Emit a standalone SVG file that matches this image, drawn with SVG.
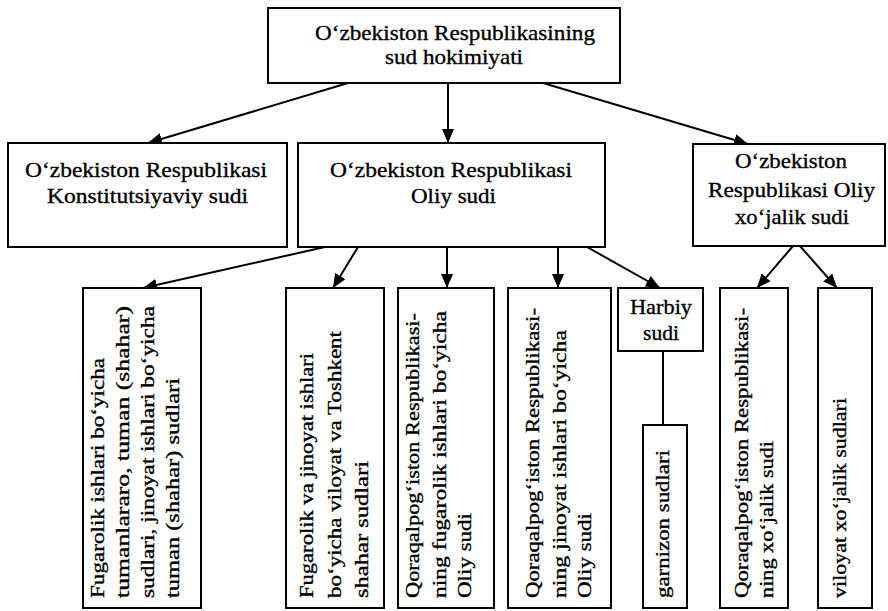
<svg xmlns="http://www.w3.org/2000/svg" width="888" height="611" viewBox="0 0 888 611">
<style>
.box{fill:#fff;stroke:#000;stroke-width:2}
.t{font-family:'Liberation Serif','Times New Roman',serif;font-size:22px;fill:#000;stroke:#000;stroke-width:0.35}
.v{font-family:'Liberation Serif','Times New Roman',serif;font-size:19px;fill:#000;stroke:#000;stroke-width:0.35}
.c{stroke:#000;stroke-width:2;fill:none;marker-end:url(#ah)}
.l{stroke:#000;stroke-width:2;fill:none}
</style>
<defs>
<marker id="ah" markerUnits="userSpaceOnUse" markerWidth="14" markerHeight="12" refX="14" refY="6" orient="auto">
<path d="M0,0 L14,6 L0,12 z" fill="#000"/>
</marker>
</defs>
<rect width="888" height="611" fill="#fff"/>
<g id="connectors">
<line class="c" x1="348" y1="83" x2="148" y2="143"/>
<line class="c" x1="448" y1="83" x2="448" y2="143"/>
<line class="c" x1="543" y1="83" x2="748" y2="144"/>
<line class="c" x1="325" y1="247" x2="143" y2="288"/>
<line class="c" x1="358" y1="247" x2="333" y2="288"/>
<line class="c" x1="447" y1="247" x2="447" y2="288"/>
<line class="c" x1="558" y1="247" x2="558" y2="288"/>
<line class="c" x1="587" y1="247" x2="660" y2="288"/>
<line class="c" x1="793" y1="246" x2="757" y2="288"/>
<line class="c" x1="800" y1="246" x2="837" y2="288"/>
<line class="l" x1="663" y1="351" x2="663" y2="425"/>
</g>
<g id="top">
<rect class="box" x="268" y="8" width="352" height="75"/>
<text class="t" x="315" y="40" textLength="280" lengthAdjust="spacingAndGlyphs">O‘zbekiston Respublikasining</text>
<text class="t" x="385" y="64" textLength="138" lengthAdjust="spacingAndGlyphs">sud hokimiyati</text>
</g>
<g id="konst">
<rect class="box" x="8" y="143" width="279" height="104"/>
<text class="t" x="25" y="177" textLength="242" lengthAdjust="spacingAndGlyphs">O‘zbekiston Respublikasi</text>
<text class="t" x="47" y="203" textLength="201" lengthAdjust="spacingAndGlyphs">Konstitutsiyaviy sudi</text>
</g>
<g id="oliy">
<rect class="box" x="298" y="143" width="307" height="104"/>
<text class="t" x="330" y="177" textLength="242" lengthAdjust="spacingAndGlyphs">O‘zbekiston Respublikasi</text>
<text class="t" x="411" y="203" textLength="85" lengthAdjust="spacingAndGlyphs">Oliy sudi</text>
</g>
<g id="xojalik">
<rect class="box" x="693" y="144" width="192" height="102"/>
<text class="t" x="735" y="168" textLength="112" lengthAdjust="spacingAndGlyphs">O‘zbekiston</text>
<text class="t" x="708" y="197" textLength="167" lengthAdjust="spacingAndGlyphs">Respublikasi Oliy</text>
<text class="t" x="735" y="224" textLength="114" lengthAdjust="spacingAndGlyphs">xo‘jalik sudi</text>
</g>
<g id="b1">
<rect class="box" x="83" y="288" width="118" height="320"/>
<text class="v" transform="translate(104,598) rotate(-90)" textLength="240" lengthAdjust="spacingAndGlyphs">Fugarolik ishlari bo‘yicha</text>
<text class="v" transform="translate(129,598) rotate(-90)" textLength="292" lengthAdjust="spacingAndGlyphs">tumanlararo, tuman (shahar)</text>
<text class="v" transform="translate(154,598) rotate(-90)" textLength="292" lengthAdjust="spacingAndGlyphs">sudlari, jinoyat ishlari bo‘yicha</text>
<text class="v" transform="translate(179,598) rotate(-90)" textLength="220" lengthAdjust="spacingAndGlyphs">tuman (shahar)  sudlari</text>
</g>
<g id="b2">
<rect class="box" x="286" y="288" width="98" height="320"/>
<text class="v" transform="translate(313,598) rotate(-90)" textLength="245" lengthAdjust="spacingAndGlyphs">Fugarolik va jinoyat ishlari</text>
<text class="v" transform="translate(341,598) rotate(-90)" textLength="267" lengthAdjust="spacingAndGlyphs">bo‘yicha viloyat va Toshkent</text>
<text class="v" transform="translate(368,598) rotate(-90)" textLength="137" lengthAdjust="spacingAndGlyphs">shahar  sudlari</text>
</g>
<g id="b3">
<rect class="box" x="398" y="288" width="96" height="320"/>
<text class="v" transform="translate(419,598) rotate(-90)" textLength="285" lengthAdjust="spacingAndGlyphs">Qoraqalpog‘iston Respublikasi-</text>
<text class="v" transform="translate(446,598) rotate(-90)" textLength="287" lengthAdjust="spacingAndGlyphs">ning fugarolik ishlari bo‘yicha</text>
<text class="v" transform="translate(471,598) rotate(-90)" textLength="85" lengthAdjust="spacingAndGlyphs">Oliy sudi</text>
</g>
<g id="b4">
<rect class="box" x="508" y="288" width="103" height="320"/>
<text class="v" transform="translate(539,598) rotate(-90)" textLength="290" lengthAdjust="spacingAndGlyphs">Qoraqalpog‘iston Respublikasi-</text>
<text class="v" transform="translate(566,598) rotate(-90)" textLength="268" lengthAdjust="spacingAndGlyphs">ning jinoyat ishlari bo‘yicha</text>
<text class="v" transform="translate(591,598) rotate(-90)" textLength="85" lengthAdjust="spacingAndGlyphs">Oliy sudi</text>
</g>
<g id="harbiy">
<rect class="box" x="618" y="288" width="85" height="63"/>
<text class="t" x="661" y="314" text-anchor="middle" textLength="62" lengthAdjust="spacingAndGlyphs">Harbiy</text>
<text class="t" x="661" y="340" text-anchor="middle" textLength="36" lengthAdjust="spacingAndGlyphs">sudi</text>
</g>
<g id="garnizon">
<rect class="box" x="643" y="425" width="44" height="183"/>
<text class="v" transform="translate(669,598) rotate(-90)" textLength="148" lengthAdjust="spacingAndGlyphs">garnizon sudlari</text>
</g>
<g id="xj1">
<rect class="box" x="720" y="288" width="68" height="320"/>
<text class="v" transform="translate(748,598) rotate(-90)" textLength="290" lengthAdjust="spacingAndGlyphs">Qoraqalpog‘iston  Respublikasi-</text>
<text class="v" transform="translate(773,598) rotate(-90)" textLength="157" lengthAdjust="spacingAndGlyphs">ning xo‘jalik sudi</text>
</g>
<g id="xj2">
<rect class="box" x="818" y="288" width="54" height="320"/>
<text class="v" transform="translate(846,598) rotate(-90)" textLength="200" lengthAdjust="spacingAndGlyphs">viloyat xo‘jalik sudlari</text>
</g>
</svg>
